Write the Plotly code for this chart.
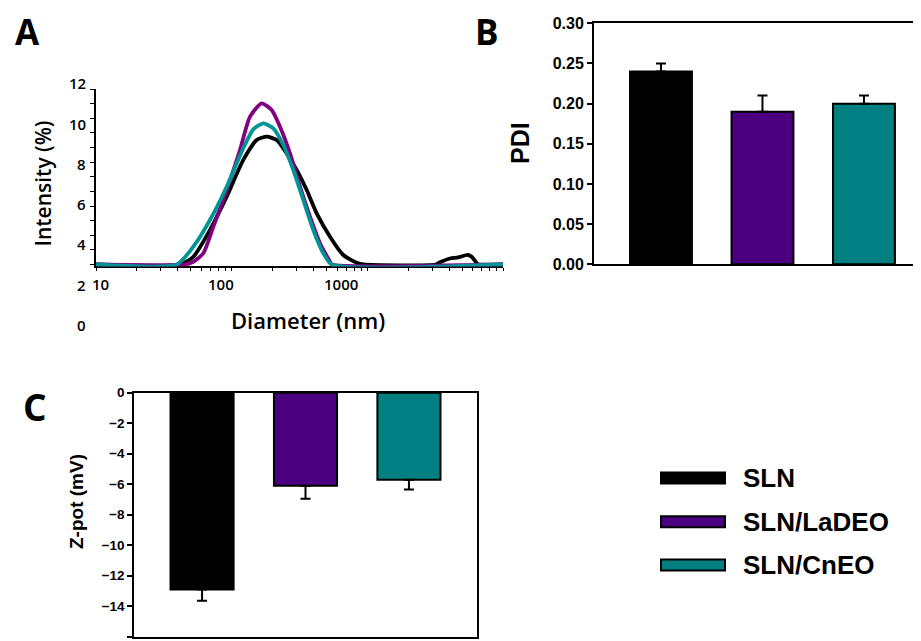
import math
import plotly.graph_objects as go

# The page body adds an 8 px margin, so the figure is sized to fill the rest of the window
OFF = 8
W, H = 921 - OFF, 641 - OFF

# ---------------- Data ----------------
groups = ["SLN", "SLN/LaDEO", "SLN/CnEO"]
bar_colors = ["#000000", "#4B0082", "#008080"]
line_colors = ["#000000", "#800080", "#009494"]

# Panel A: intensity size distributions (diameter nm, intensity %)
sln_d = [10, 41.6, 52.2, 69.2, 91.9, 121.8, 152.9, 181.2, 214.7, 254.4, 301.5, 357.3,
         423.4, 530.7, 665.1, 835, 934, 3200, 3433, 4068, 4659, 5521, 5908, 6433, 6700, 10000]
sln_i = [0, 0, 0.53, 2.36, 4.64, 7.15, 8.51, 8.74, 8.51, 7.60, 6.46, 5.09,
         3.50, 1.90, 0.65, 0.12, 0, 0, 0.15, 0.41, 0.48, 0.65, 0.51, 0.07, 0, 0]
ladeo_d = [10, 45.3, 52.2, 61.8, 73.2, 91.9, 115.2, 136.5, 166.5, 197.2, 227.1, 269.2,
           318.8, 377.9, 447.9, 530.7, 546, 10000]
ladeo_i = [0, 0, 0.19, 0.77, 2.58, 5.09, 7.83, 10.11, 11.02, 10.56, 9.42, 7.60,
           5.32, 3.27, 1.45, 0.19, 0, 0]
cneo_d = [10, 39.3, 52.2, 69.2, 91.9, 121.8, 144.3, 171.1, 202.8, 240.3, 284.6, 337.3,
          399.7, 473.7, 546.2, 10000]
cneo_i = [0, 0, 1.22, 3.04, 5.32, 7.95, 9.24, 9.65, 9.31, 8.17, 6.46, 4.41,
          2.36, 0.77, 0, 0]

a_xtick_vals = [10, 100, 1000]
a_xtick_text = ["10", "100", "1000"]
a_ytick_vals = [0, 2, 4, 6, 8, 10, 12]
a_ytick_text = ["0", "2", "4", "6", "8", "10", "12"]
a_tick_positions = [10, 20, 30, 40, 50, 60, 70, 80, 90, 100, 200, 300, 400, 500, 600, 700,
                    800, 900, 1000, 2000, 3000, 4000, 5000, 6000, 7000, 8000, 9000, 10000]

# Panel B: PDI
pdi = [0.24, 0.19, 0.20]
pdi_err = [0.01, 0.02, 0.01]

# Panel C: zeta potential
zpot = [-12.9, -6.1, -5.7]
zpot_err = [0.75, 0.85, 0.65]


# ---------------- helpers (window pixel -> paper) ----------------
def px(x):
    return (x - OFF) / W


def py(y):
    return 1 - (y - OFF) / H


A_FONT = "Open Sans"
B_FONT = "Liberation Sans"

fig = go.Figure()

# Panel A lines
for d, i, name, col in [(sln_d, sln_i, groups[0], line_colors[0]),
                        (ladeo_d, ladeo_i, groups[1], line_colors[1]),
                        (cneo_d, cneo_i, groups[2], line_colors[2])]:
    fig.add_trace(go.Scatter(x=d, y=i, mode="lines", name=name,
                             line=dict(color=col, width=3.8, shape="spline", smoothing=0.6),
                             cliponaxis=False, showlegend=False,
                             xaxis="x", yaxis="y"))

# Panel B bars
fig.add_trace(go.Bar(x=groups, y=pdi, width=0.61,
                     marker=dict(color=bar_colors, line=dict(color="black", width=2)),
                     error_y=dict(type="data", array=pdi_err, arrayminus=[0, 0, 0],
                                  symmetric=False, color="black", thickness=2, width=5),
                     showlegend=False, xaxis="x3", yaxis="y3"))

# Panel C bars
fig.add_trace(go.Bar(x=groups, y=zpot, width=0.61,
                     marker=dict(color=bar_colors, line=dict(color="black", width=2)),
                     error_y=dict(type="data", array=[0, 0, 0], arrayminus=zpot_err,
                                  symmetric=False, color="black", thickness=2, width=5),
                     showlegend=False, xaxis="x4", yaxis="y4"))

# Panel A frame: y=0 sits at 264.5 px, 14.625 px per unit; the range dips a little
# below 0 so the baseline strokes are not clipped
A_LEFT, A_RIGHT, A_BOT, A_TOP = 96, 503, 266.4, 89
A_YMIN = -0.13

fig.update_layout(
    width=W, height=H,
    margin=dict(l=0, r=0, t=0, b=0, pad=0, autoexpand=False),
    paper_bgcolor="white", plot_bgcolor="white",
    showlegend=False,
    # ---- A
    xaxis=dict(domain=[px(A_LEFT), px(A_RIGHT)], type="log", range=[1, 4], anchor="y",
               automargin=False,
               showline=True, linecolor="black", linewidth=1.5,
               showgrid=False, zeroline=False, showticklabels=False,
               tickmode="array", tickvals=a_tick_positions,
               ticks="outside", ticklen=3, tickcolor="black",
               layer="below traces"),
    yaxis=dict(domain=[py(A_BOT), py(A_TOP)], range=[A_YMIN, 12], anchor="x",
               automargin=False,
               showline=True, linecolor="black", linewidth=1.5,
               showgrid=False, zeroline=False, showticklabels=False,
               tick0=0, dtick=1, ticks="outside", ticklen=4, tickcolor="black",
               layer="below traces"),
    # ---- B
    xaxis3=dict(domain=[px(594), 1.0], range=[-0.66, 2.562], anchor="y3",
                automargin=False,
                showline=True, linecolor="black", linewidth=2, mirror=True,
                showgrid=False, zeroline=False, showticklabels=False, ticks=""),
    yaxis3=dict(domain=[py(264.3), py(23.3)], range=[0, 0.30], anchor="x3",
                automargin=False,
                showline=True, linecolor="black", linewidth=2,
                showgrid=False, zeroline=False,
                tick0=0, dtick=0.05, tickformat=".2f",
                ticks="outside", ticklen=5, tickwidth=1.5, tickcolor="black",
                tickfont=dict(family=B_FONT, size=16, color="black", weight="bold")),
    # ---- C
    xaxis4=dict(domain=[px(134.3), px(476.7)], range=[-0.655, 2.655], anchor="y4",
                automargin=False,
                showline=True, linecolor="black", linewidth=2, mirror=True,
                showgrid=False, zeroline=False, showticklabels=False, ticks=""),
    yaxis4=dict(domain=[py(636.7), py(392.7)], range=[-16, 0], anchor="x4",
                automargin=False,
                showline=True, linecolor="black", linewidth=2, mirror=True,
                showgrid=False, zeroline=False,
                tick0=0, dtick=2,
                ticks="outside", ticklen=5, tickwidth=1.5, tickcolor="black",
                tickfont=dict(family=B_FONT, size=13.5, color="black", weight="bold")),
)

annotations = [
    dict(text="A", x=px(27), y=py(31), font=dict(family=A_FONT, size=35, weight=700)),
    dict(text="B", x=px(487), y=py(31.5), font=dict(family=A_FONT, size=35, weight=700)),
    dict(text="C", x=px(34.5), y=py(406.5), font=dict(family=A_FONT, size=37, weight=700)),
    dict(text="Intensity (%)", x=px(42.5), y=py(184), textangle=-90,
         font=dict(family=A_FONT, size=21, weight=600)),
    dict(text="Diameter (nm)", x=px(307.5), y=py(320),
         font=dict(family=A_FONT, size=22, weight=600)),
    dict(text="PDI", x=px(520), y=py(143), textangle=-90,
         font=dict(family=B_FONT, size=25, weight="bold")),
    dict(text="Z-pot (mV)", x=px(76), y=py(502), textangle=-90,
         font=dict(family=B_FONT, size=19, weight="bold")),
]

# Panel A tick labels, as printed in the source figure (offset from the tick marks)
LBL_X0, LBL_DEC = 100, 120.5      # px of "10" label centre, px per decade
LBL_Y0, LBL_UNIT = 324.8, 20.11   # px of "0" label centre, px per unit
for v, t in zip(a_xtick_vals, a_xtick_text):
    annotations.append(dict(text=t, x=px(LBL_X0 + (math.log10(v) - 1) * LBL_DEC), y=py(284),
                            font=dict(family=A_FONT, size=15, weight=600)))
for v, t in zip(a_ytick_vals, a_ytick_text):
    annotations.append(dict(text=t, x=px(87.5), y=py(LBL_Y0 - v * LBL_UNIT), xanchor="right",
                            font=dict(family=A_FONT, size=15, weight=600)))

# Legend (swatches + labels)
leg_rows = [478, 521.7, 565]
shapes = []
for name, col, yc in zip(groups, bar_colors, leg_rows):
    shapes.append(dict(type="rect", xref="paper", yref="paper",
                       x0=px(661), x1=px(725), y0=py(yc + 5.5), y1=py(yc - 5.5),
                       fillcolor=col, line=dict(color="black", width=2)))
    annotations.append(dict(text=name, x=px(741), y=py(yc), xanchor="left",
                            font=dict(family=B_FONT, size=26, weight="bold")))

for a in annotations:
    a.setdefault("xref", "paper")
    a.setdefault("yref", "paper")
    a.setdefault("showarrow", False)
    a.setdefault("xanchor", "center")
    a.setdefault("yanchor", "middle")
    a["font"].setdefault("color", "black")

fig.update_layout(annotations=annotations, shapes=shapes)

fig.write_html("out.html")
